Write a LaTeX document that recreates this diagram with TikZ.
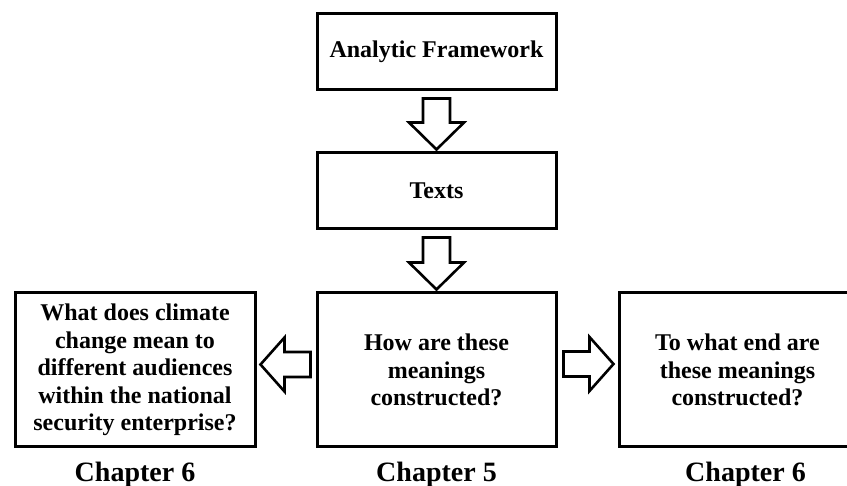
\documentclass[tikz,border=0pt]{standalone}
\usepackage{fontspec}
\setmainfont{Liberation Serif}
\usetikzlibrary{calc}

% Hollow block arrows drawn between the borders of two named nodes
\newcommand{\downblock}[2]{%
  \draw[blockarrow]
    ($(#1.south)+(-13.5,7)$) -- ($(#1.south)+(13.5,7)$)
    -- ($(#2.north)+(13.5,-29)$) -- ($(#2.north)+(27.5,-29)$)
    -- ($(#2.north)+(0,-2)$)
    -- ($(#2.north)+(-27.5,-29)$) -- ($(#2.north)+(-13.5,-29)$) -- cycle;}
\newcommand{\leftblock}[3]{%
  \draw[blockarrow]
    ($(#1.west)+(-5,#3-12.5)$) -- ($(#1.west)+(-5,#3+12.5)$)
    -- ($(#2.east)+(28,#3+12.5)$) -- ($(#2.east)+(28,#3+27)$)
    -- ($(#2.east)+(4,#3)$)
    -- ($(#2.east)+(28,#3-27)$) -- ($(#2.east)+(28,#3-12.5)$) -- cycle;}
\newcommand{\rightblock}[3]{%
  \draw[blockarrow]
    ($(#1.east)+(6,#3-12.5)$) -- ($(#1.east)+(6,#3+12.5)$)
    -- ($(#2.west)+(-28,#3+12.5)$) -- ($(#2.west)+(-28,#3+27)$)
    -- ($(#2.west)+(-4,#3)$)
    -- ($(#2.west)+(-28,#3-27)$) -- ($(#2.west)+(-28,#3-12.5)$) -- cycle;}

\begin{document}
\begin{tikzpicture}[x=1pt,y=-1pt,
  box/.style={draw, line width=3pt, align=center, inner sep=0pt,
    font=\fontsize{24}{27.5}\selectfont\bfseries},
  chap/.style={anchor=base, inner sep=0pt,
    font=\fontsize{28}{30}\selectfont\bfseries},
  blockarrow/.style={draw, line width=2.6pt, fill=white, line join=miter}]
\useasboundingbox (0,0) rectangle (847,486);

% stages
\node[box, minimum width=239pt, minimum height=76pt] (frame) at (436.5,52) {Analytic Framework};
\node[box, minimum width=239pt, minimum height=76pt] (texts) at (436.5,191) {Texts};
\node[box, minimum width=239pt, minimum height=154pt] (how) at (436.5,370)
  {How are these\\meanings\\constructed?};
\node[box, minimum width=240pt, minimum height=154pt] (what) at (135,370)
  {What does climate\\change mean to\\different audiences\\within the national\\security enterprise?};
\node[box, minimum width=237pt, minimum height=154pt] (end) at (737.5,370)
  {To what end are\\these meanings\\constructed?};

% chapter captions
\node[chap] (chwhat) at (135,482) {Chapter 6};
\node[chap] (chhow) at (436.5,482) {Chapter 5};
\node[chap] (chend) at (745.5,482) {Chapter 6};

% flow
\downblock{frame}{texts}
\downblock{texts}{how}
\leftblock{how}{what}{-5.5}
\rightblock{how}{end}{-6}
\end{tikzpicture}
\end{document}
